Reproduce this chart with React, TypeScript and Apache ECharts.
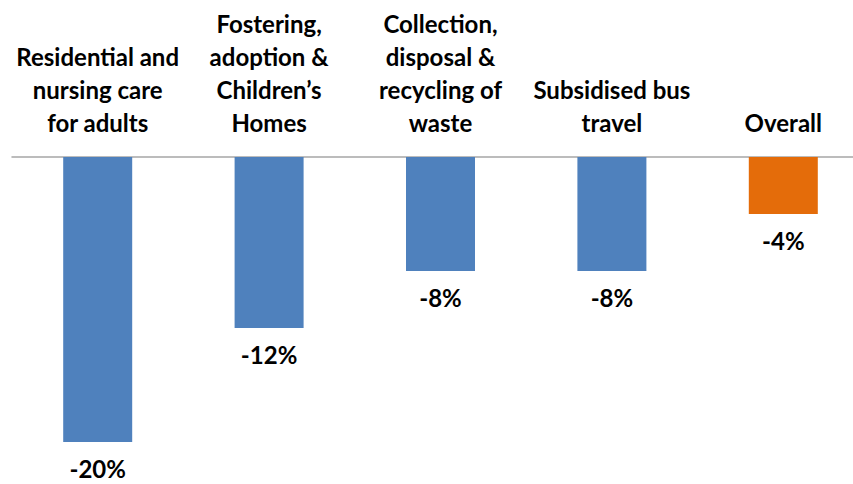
import React, { useEffect, useRef } from "react";
import * as echarts from "echarts";

const categories = [
  "Residential and\nnursing care\nfor adults",
  "Fostering,\nadoption &\nChildren’s\nHomes",
  "Collection,\ndisposal &\nrecycling of\nwaste",
  "Subsidised bus\ntravel",
  "Overall",
];
const values = [-20, -12, -8, -8, -4];
const barColors = ["#4f81bd", "#4f81bd", "#4f81bd", "#4f81bd", "#e46c0a"];

export default function App() {
  const ref = useRef<HTMLDivElement>(null);
  useEffect(() => {
    document.body.style.margin = "0";
    const chart = echarts.init(ref.current!, undefined, { renderer: "svg" });
    chart.setOption({
      animation: false,
      grid: { left: 12, top: 157, right: 1, height: 285, containLabel: false },
      xAxis: {
        type: "category",
        position: "top",
        data: categories,
        axisLine: { show: true, lineStyle: { color: "#a6a6a6", width: 1.5 } },
        axisTick: { show: false },
        axisLabel: {
          interval: 0,
          margin: 18,
          color: "#000",
          fontFamily: "Lato",
          fontWeight: "bold",
          fontSize: 24,
          lineHeight: 33,
        },
      },
      yAxis: {
        type: "value",
        min: -20,
        max: 0,
        show: false,
      },
      series: [
        {
          type: "bar",
          barWidth: 69,
          data: values.map((v, i) => ({ value: v, itemStyle: { color: barColors[i] } })),
          label: {
            show: true,
            position: "bottom",
            distance: 14,
            formatter: (p: any) => p.value + "%",
            color: "#000",
            fontFamily: "Lato",
            fontWeight: "bold",
            fontSize: 24,
          },
        },
      ],
    });
    return () => chart.dispose();
  }, []);
  return (
    <div style={{ width: 853, height: 484, overflow: "hidden", position: "relative" }}>
      <div ref={ref} style={{ width: 870, height: 484 }} />
    </div>
  );
}
